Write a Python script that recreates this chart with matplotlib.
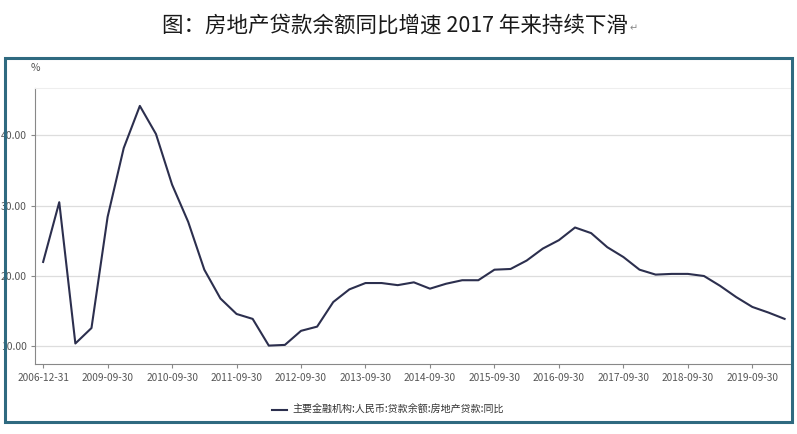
import matplotlib.pyplot as plt
from matplotlib.patches import Rectangle

plt.rcParams['font.family'] = ['Noto Sans CJK SC', 'DejaVu Sans']

# 日期（类别轴），只显示部分标签
dates = ['2006-12-31', '2007-12-31', '2008-12-31', '2009-06-30',
         '2009-09-30', '2009-12-31', '2010-03-31', '2010-06-30',
         '2010-09-30', '2010-12-31', '2011-03-31', '2011-06-30',
         '2011-09-30', '2011-12-31', '2012-03-31', '2012-06-30',
         '2012-09-30', '2012-12-31', '2013-03-31', '2013-06-30',
         '2013-09-30', '2013-12-31', '2014-03-31', '2014-06-30',
         '2014-09-30', '2014-12-31', '2015-03-31', '2015-06-30',
         '2015-09-30', '2015-12-31', '2016-03-31', '2016-06-30',
         '2016-09-30', '2016-12-31', '2017-03-31', '2017-06-30',
         '2017-09-30', '2017-12-31', '2018-03-31', '2018-06-30',
         '2018-09-30', '2018-12-31', '2019-03-31', '2019-06-30',
         '2019-09-30', '2019-12-31', '2020-03-31']

values = [22.0, 30.5, 10.4, 12.6,
          28.4, 38.2, 44.2, 40.2,
          33.0, 27.7, 20.9, 16.8,
          14.6, 13.9, 10.1, 10.2,
          12.2, 12.8, 16.3, 18.1,
          19.0, 19.0, 18.7, 19.1,
          18.2, 18.9, 19.4, 19.4,
          20.9, 21.0, 22.2, 23.9,
          25.1, 26.9, 26.1, 24.1,
          22.7, 20.9, 20.2, 20.3,
          20.3, 20.0, 18.6, 17.0,
          15.6, 14.8, 13.9]

shown_labels = ['2006-12-31', '2009-09-30', '2010-09-30', '2011-09-30',
                '2012-09-30', '2013-09-30', '2014-09-30', '2015-09-30',
                '2016-09-30', '2017-09-30', '2018-09-30', '2019-09-30']
yticks = [10, 20, 30, 40]

series_name = '主要金融机构:人民币:贷款余额:房地产贷款:同比'
title = '图：房地产贷款余额同比增速 2017 年来持续下滑'

fig = plt.figure(figsize=(7.97, 4.34), dpi=100)

# 外框
fig.patches.append(Rectangle((0.006, 0.028), 0.988, 0.838, transform=fig.transFigure,
                             fill=False, edgecolor='#2f6a80', linewidth=2.2))

t = fig.text(0.495, 0.942, title, ha='center', va='center', fontsize=15.5, color='#1a1a1a')
fig.canvas.draw()
bb = t.get_window_extent().transformed(fig.transFigure.inverted())
fig.text(bb.x1 + 0.002, 0.935, '↵', ha='left', va='center', fontsize=7, color='#888888',
         family=['DejaVu Sans'])

ax = fig.add_axes([0.044, 0.1606, 0.9485, 0.6359])
x = list(range(len(dates)))
line, = ax.plot(x, values, color='#2c2f4e', linewidth=1.5)

ax.set_xlim(-0.5, len(dates) - 0.6)
ax.set_ylim(7.44, 46.7)

tick_pos = [dates.index(d) for d in shown_labels]
ax.set_xticks(tick_pos)
ax.set_xticklabels(shown_labels, fontsize=7.3, color='#555555')
ax.set_yticks(yticks)
ax.set_yticklabels([f'{v:.2f}' for v in yticks], fontsize=7.5, color='#555555')
ax.tick_params(axis='both', length=3, width=0.8, color='#888888', pad=3)

ax.grid(axis='y', color='#dddddd', linewidth=0.9)
ax.set_axisbelow(True)
ax.spines['right'].set_visible(False)
ax.spines['top'].set_color('#eeeeee')
ax.spines['left'].set_color('#888888')
ax.spines['bottom'].set_color('#888888')

fig.text(0.038, 0.843, '%', fontsize=7.5, color='#555555', ha='left', va='center')

leg = fig.legend([line], [series_name], loc='center', bbox_to_anchor=(0.487, 0.055),
                 frameon=False, fontsize=7.2, handlelength=1.5, handletextpad=0.6)
for txt in leg.get_texts():
    txt.set_color('#333333')

fig.savefig('out.png', dpi=100)
